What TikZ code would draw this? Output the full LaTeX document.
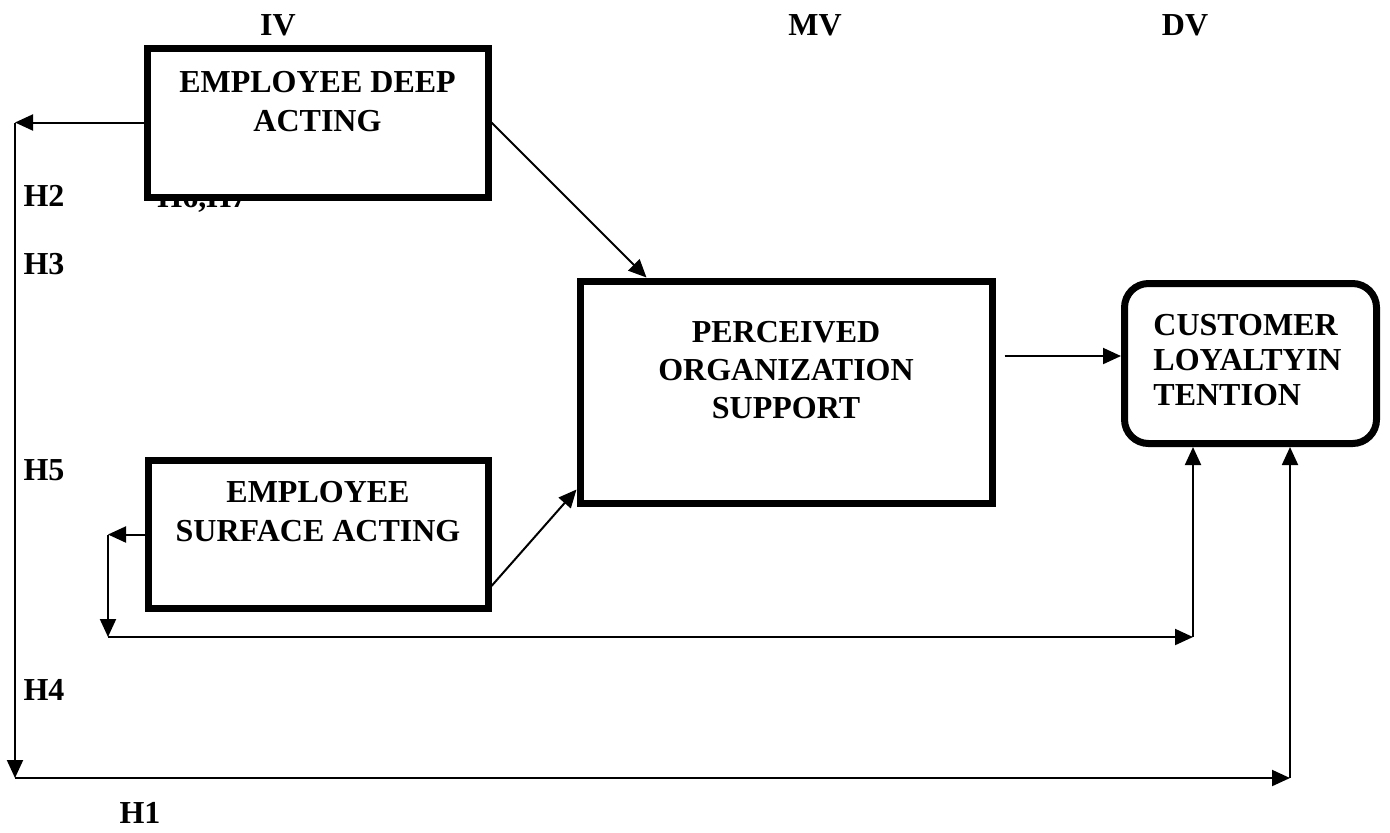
\documentclass[tikz,border=0pt]{standalone}
\usepackage{fontspec}
\setmainfont{Liberation Serif}
\usetikzlibrary{arrows.meta,calc}
\begin{document}
\begin{tikzpicture}[x=0.5pt,y=-0.5pt,
  every node/.style={font=\fontsize{16}{19.5}\selectfont\bfseries, inner sep=0pt},
  varbox/.style={draw, fill=white, line width=3.5pt},
  flow/.style={line width=1pt, -{Triangle[length=9pt,width=8pt]}}]
\useasboundingbox (0,0) rectangle (1390,832);
% column heads
\node (iv) at (278,25) {IV};
\node (mv) at (815,25) {MV};
\node (dv) at (1185,25) {DV};
% hypothesis labels
\node (h2) at (44,196) {H2};
\node[anchor=base west] (h67) at (157,207) {H6,H7};
\node (h3) at (44,264) {H3};
\node (h5) at (44,470) {H5};
\node (h4) at (44,690) {H4};
\node (h1) at (140,813) {H1};
% variables
\node[varbox, minimum width=170.5pt, minimum height=74.5pt] (deep) at (317.5,122.5) {};
\node[align=center] (deeptxt) at (317.5,102) {EMPLOYEE DEEP\\ACTING};
\node[varbox, minimum width=170pt, minimum height=74pt] (surf) at (318,534.5) {};
\node[align=center] (surftxt) at (318,512) {EMPLOYEE\\SURFACE ACTING};
\node[varbox, minimum width=206pt, minimum height=111pt] (pos) at (786,392) {};
\node[align=center, font=\fontsize{16}{19}\selectfont\bfseries] (postxt) at (786,370) {PERCEIVED\\ORGANIZATION\\SUPPORT};
\node[varbox, rounded corners=12pt, minimum width=126pt, minimum height=80pt] (cli) at (1250.5,363.5) {};
\node[align=left, anchor=west, font=\fontsize{16}{17.5}\selectfont\bfseries] (clitxt) at (1153,360) {CUSTOMER\\LOYALTYIN\\TENTION};
% corners of the outer paths
\coordinate (h1a) at (15,120);
\coordinate (h1b) at (15,778);
\coordinate (h1c) at (1290,778);
\coordinate (h4a) at (108,534);
\coordinate (h4b) at (108,637);
\coordinate (h4c) at (1193,637);
\draw[flow] (deep.west) -- (deep.west -| h1a);
\draw[flow] (deep.west -| h1a) -- (h1b);
\draw[flow] (h1b) -- (h1c);
\draw[flow] (h1c) -- (h1c |- cli.south);
\draw[flow] (surf.west) -- (surf.west -| h4a);
\draw[flow] (surf.west -| h4a) -- (h4b);
\draw[flow] (h4b) -- (h4c);
\draw[flow] (h4c) -- (h4c |- cli.south);
% paths through the mediator
\draw[flow] (deep.east) -- ($(pos.north west)+(70,0)$);
\draw[flow] ($(surf.south east)+(0,-26)$) -- ($(pos.south west)+(0,-17)$);
\coordinate (mvout) at ($(pos.east)+(9,-36)$);
\draw[flow] (mvout) -- (mvout -| cli.west);
\end{tikzpicture}
\end{document}
